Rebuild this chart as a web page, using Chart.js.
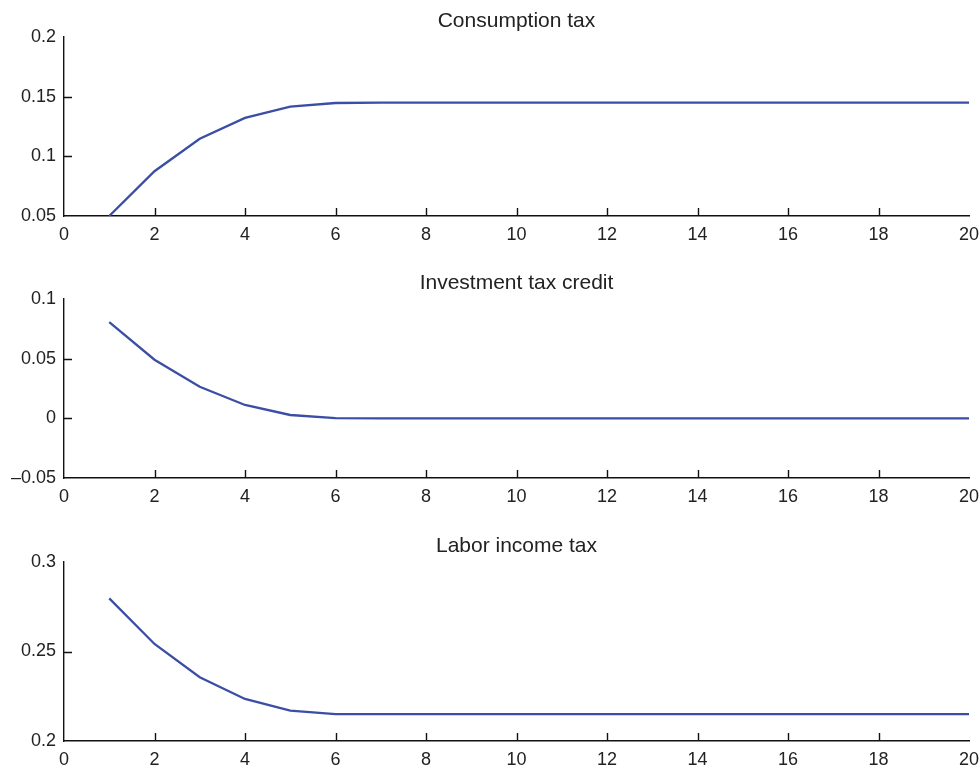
<!DOCTYPE html>
<html>
<head>
<meta charset="utf-8">
<script src="https://cdn.jsdelivr.net/npm/chart.js@4.4.1/dist/chart.umd.min.js"></script>
<style>
  html, body { margin: 0; padding: 0; background: #fff; }
  #wrap { position: relative; width: 979px; height: 766px; }
  #wrap canvas { position: absolute; left: 0; top: 0; }
</style>
</head>
<body>
<div id="wrap">
  <canvas id="c1" width="979" height="766"></canvas>
  <canvas id="c2" width="979" height="766"></canvas>
  <canvas id="c3" width="979" height="766"></canvas>
</div>
<script>
// periods 1..20
const periods = [1, 2, 3, 4, 5, 6, 7, 8, 9, 10, 11, 12, 13, 14, 15, 16, 17, 18, 19, 20];

const consumptionTax = [0.05, 0.0875, 0.1147, 0.1322, 0.1417, 0.1447, 0.145, 0.145, 0.145, 0.145,
                        0.145, 0.145, 0.145, 0.145, 0.145, 0.145, 0.145, 0.145, 0.145, 0.145];
const investmentCredit = [0.0807, 0.0491, 0.0265, 0.0112, 0.0028, 0.0002, 0, 0, 0, 0,
                          0, 0, 0, 0, 0, 0, 0, 0, 0, 0];
const laborTax = [0.2797, 0.2542, 0.2356, 0.2235, 0.2170, 0.2150, 0.215, 0.215, 0.215, 0.215,
                  0.215, 0.215, 0.215, 0.215, 0.215, 0.215, 0.215, 0.215, 0.215, 0.215];

const xTicks = [0, 2, 4, 6, 8, 10, 12, 14, 16, 18, 20];
const yTicks1 = [0.05, 0.1, 0.15, 0.2];
const yTicks2 = [-0.05, 0, 0.05, 0.1];
const yTicks3 = [0.2, 0.25, 0.3];

const titles = ['Consumption tax', 'Investment tax credit', 'Labor income tax'];

const LINE = '#3a4ea6';
const TEXT = '#222';
const FONT = "'Liberation Sans', Arial, sans-serif";

function fmt(v) {
    var s = String(parseFloat(v.toFixed(3)));
    if (v < 0) s = '\u2013' + s.slice(1);
    return s;
}

// title over the plot area + inward tick marks
const decor = {
    id: 'decor',
    afterDraw(chart, args, opts) {
        const ctx = chart.ctx;
        const a = chart.chartArea;
        const xs = chart.scales.x;
        const ys = chart.scales.y;
        ctx.save();
        ctx.fillStyle = TEXT;
        ctx.font = '21px ' + FONT;
        ctx.textAlign = 'center';
        ctx.textBaseline = 'middle';
        ctx.fillText(opts.title, (a.left + a.right) / 2, a.top - 16);

        ctx.strokeStyle = '#111';
        ctx.lineWidth = 1.4;
        ctx.beginPath();
        xs.ticks.forEach(function (t) {
            if (t.value > xs.min && t.value < xs.max) {
                const px = Math.round(xs.getPixelForValue(t.value)) + 0.5;
                ctx.moveTo(px, a.bottom);
                ctx.lineTo(px, a.bottom - 8);
            }
        });
        ys.ticks.forEach(function (t) {
            if (t.value > ys.min + 1e-9 && t.value < ys.max - 1e-9) {
                const py = Math.round(ys.getPixelForValue(t.value)) + 0.5;
                ctx.moveTo(a.left, py);
                ctx.lineTo(a.left + 8, py);
            }
        });
        ctx.stroke();
        ctx.restore();
    }
};

function BuildChart(id, values, yTicks, title, top, bottom) {
    const ctx = document.getElementById(id).getContext('2d');
    const pts = periods.map(function (p, i) { return { x: p, y: values[i] }; });
    return new Chart(ctx, {
        type: 'line',
        data: {
            datasets: [{
                data: pts,
                borderColor: LINE,
                borderWidth: 2.3,
                pointRadius: 0,
                tension: 0,
                fill: false
            }]
        },
        options: {
            responsive: false,
            animation: false,
            events: [],
            layout: {
                padding: { top: top, bottom: 766 - bottom - 32, right: 10, left: 0 }
            },
            scales: {
                x: {
                    type: 'linear',
                    min: 0,
                    max: 20,
                    afterFit: function (s) {
                        s.height = 32;
                        s.paddingLeft = 0;
                        s.paddingRight = 0;
                    },
                    afterBuildTicks: function (s) {
                        s.ticks = xTicks.map(function (v) { return { value: v }; });
                    },
                    grid: { display: false, drawTicks: false },
                    border: { display: true, color: '#111', width: 1.4 },
                    ticks: {
                        color: TEXT,
                        font: { family: FONT, size: 18 },
                        padding: 8,
                        maxRotation: 0,
                        autoSkip: false
                    }
                },
                y: {
                    type: 'linear',
                    min: yTicks[0],
                    max: yTicks[yTicks.length - 1],
                    afterFit: function (s) {
                        s.width = 64;
                        s.paddingTop = 0;
                        s.paddingBottom = 0;
                    },
                    afterBuildTicks: function (s) {
                        s.ticks = yTicks.map(function (v) { return { value: v }; });
                    },
                    grid: { display: false, drawTicks: false },
                    border: { display: true, color: '#111', width: 1.4 },
                    ticks: {
                        color: TEXT,
                        font: { family: FONT, size: 18 },
                        padding: 8,
                        autoSkip: false,
                        callback: function (v) { return fmt(v); }
                    }
                }
            },
            plugins: {
                legend: { display: false },
                tooltip: { enabled: false },
                title: { display: false },
                decor: { title: title }
            }
        },
        plugins: [decor]
    });
}

BuildChart('c1', consumptionTax, yTicks1, titles[0], 37, 216);
BuildChart('c2', investmentCredit, yTicks2, titles[1], 299, 478);
BuildChart('c3', laborTax, yTicks3, titles[2], 562, 741);
</script>
</body>
</html>
